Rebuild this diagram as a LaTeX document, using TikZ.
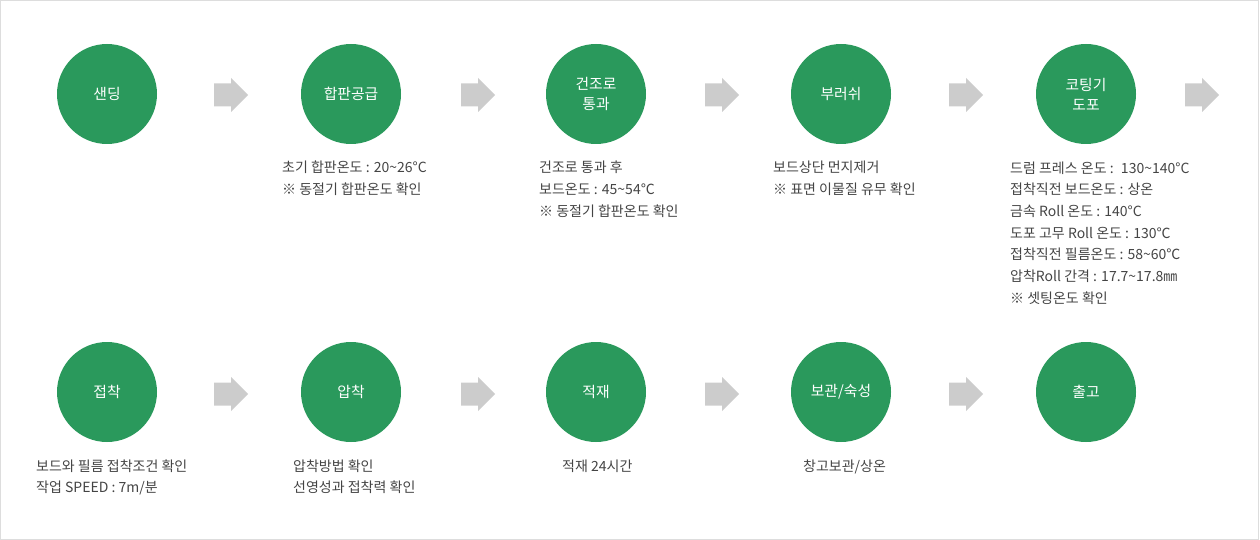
\documentclass[tikz,border=0pt]{standalone}
\usepackage{fontspec}
\setmainfont{Noto Sans CJK KR}
\definecolor{stepgreen}{HTML}{2A995C}
\definecolor{arrowgray}{HTML}{CCCCCC}
\definecolor{txtgray}{HTML}{444444}
\definecolor{framegray}{HTML}{DDDDDD}
\tikzset{
  stepcircle/.style={circle, fill=stepgreen, minimum size=100pt, inner sep=0pt,
    text=white, font=\fontsize{14.8}{20}\selectfont, align=center},
  desc/.style={anchor=base west, text=txtgray, font=\fontsize{14}{21.7}\selectfont,
    align=left, inner sep=0pt},
  flowarrow/.pic={\fill[arrowgray] (0,-11.5) -- (17,-11.5) -- (17,-17) -- (34,0)
    -- (17,17) -- (17,11.5) -- (0,11.5) -- cycle;}
}
\begin{document}
\begin{tikzpicture}[x=1pt,y=-1pt]
\useasboundingbox (0,0) rectangle (1260,540);
\draw[framegray] (0.5,0.5) rectangle (1258.5,539.5);
% row 1
\node[stepcircle] (c1) at (107,94) {샌딩};
\node[stepcircle] (c2) at (351,94) {합판공급};
\node[stepcircle] (c3) at (596,94) {건조로\\통과};
\node[stepcircle] (c4) at (841,94) {부러쉬};
\node[stepcircle] (c5) at (1086,94) {코팅기\\도포};
\pic at (214,95) {flowarrow};
\pic at (461,95) {flowarrow};
\pic at (705,95) {flowarrow};
\pic at (949,95) {flowarrow};
\pic at (1185,95) {flowarrow};
% base anchor = baseline of last line; first baseline at 173, step 21.7
\node[desc] (t2) at (282,194.7) {초기 합판온도 : 20\textasciitilde26°C\\※ 동절기 합판온도 확인};
\node[desc] (t3) at (539,216.4) {건조로 통과 후\\보드온도 : 45\textasciitilde54℃\\※ 동절기 합판온도 확인};
\node[desc] (t4) at (773,194.7) {보드상단 먼지제거\\※ 표면 이물질 유무 확인};
\node[desc] (t5) at (1010,303.2) {드럼 프레스 온도 : \ 130\textasciitilde140°C\\접착직전 보드온도 : 상온\\금속 Roll 온도 : 140°C\\도포 고무 Roll 온도 : 130℃\\접착직전 필름온도 : 58\textasciitilde60℃\\압착Roll 간격 : 17.7\textasciitilde17.8㎜\\※ 셋팅온도 확인};
% row 2
\node[stepcircle] (d1) at (107,392) {접착};
\node[stepcircle] (d2) at (351,392) {압착};
\node[stepcircle] (d3) at (596,392) {적재};
\node[stepcircle] (d4) at (841,392) {보관/숙성};
\node[stepcircle] (d5) at (1086,392) {출고};
\pic at (214,394) {flowarrow};
\pic at (461,394) {flowarrow};
\pic at (705,394) {flowarrow};
\pic at (949,394) {flowarrow};
\node[desc] (u1) at (36,492.7) {보드와 필름 접착조건 확인\\작업 SPEED : 7m/분};
\node[desc] (u2) at (293,492.7) {압착방법 확인\\선영성과 접착력 확인};
\node[desc] (u3) at (562,471) {적재 24시간};
\node[desc] (u4) at (803,471) {창고보관/상온};
\end{tikzpicture}
\end{document}
